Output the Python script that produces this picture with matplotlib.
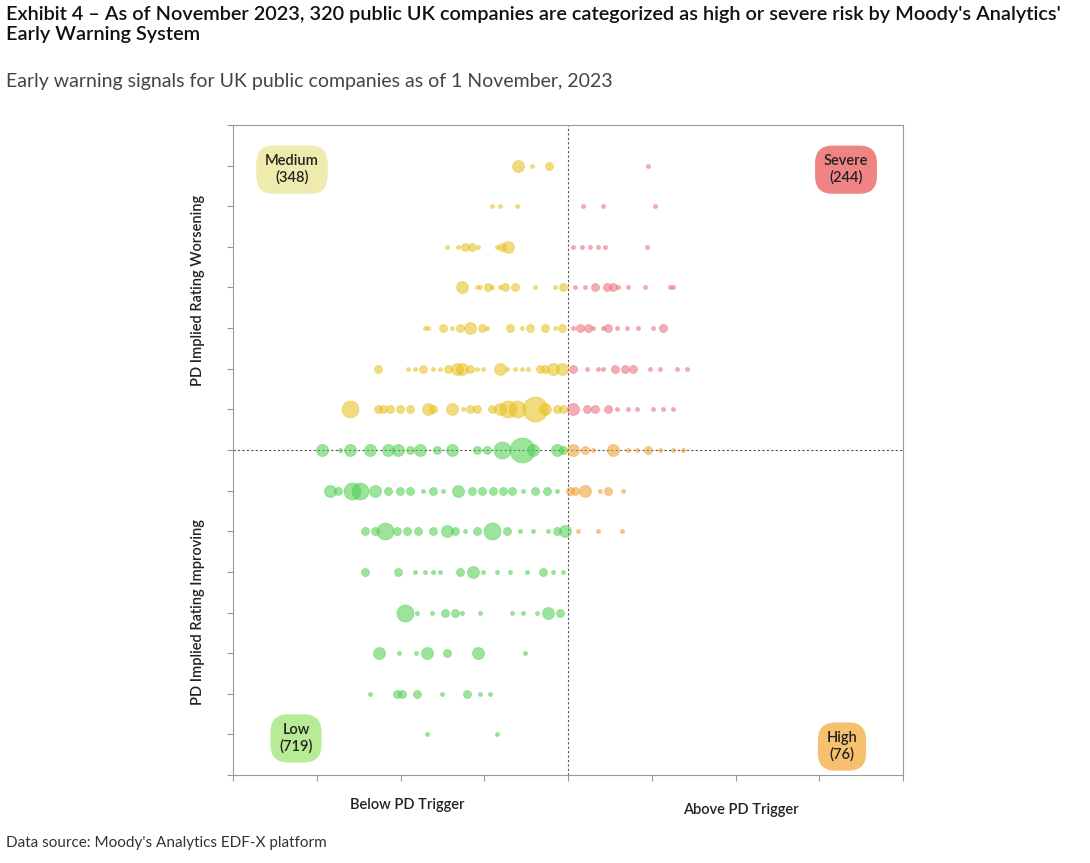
import matplotlib.pyplot as plt

plt.rcParams['font.family'] = ['Lato', 'DejaVu Sans']

# x score per row (trigger line at 568), with bubble size codes 1..5
rows = {
    7: ([518, 532, 549, 648], [3, 1, 2, 1]),
    6: ([492, 500, 517, 583, 603, 655], [1, 1, 1, 1, 1, 1]),
    5: ([447, 458, 465, 472, 478, 497, 502, 508, 573, 582, 590, 598, 605, 647],
        [1, 1, 2, 2, 1, 1, 2, 3, 1, 1, 1, 1, 1, 1]),
    4: ([462, 477, 480, 488, 492, 500, 505, 515, 535, 555, 563, 575, 585, 595, 607, 613, 618, 628, 645, 670, 673],
        [3, 1, 1, 2, 1, 1, 2, 2, 1, 1, 2, 1, 1, 2, 2, 2, 1, 1, 1, 1, 1]),
    3: ([425, 428, 443, 452, 460, 470, 482, 487, 510, 522, 530, 545, 555, 562, 573, 580, 588, 593, 603, 608, 617, 627, 638, 653, 663],
        [1, 1, 2, 1, 2, 3, 2, 1, 2, 1, 2, 2, 1, 2, 1, 2, 2, 1, 1, 2, 1, 1, 1, 1, 2]),
    2: ([378, 408, 415, 423, 433, 440, 448, 457, 462, 470, 477, 483, 500, 507, 515, 522, 528, 540, 545, 553, 562,
         573, 587, 598, 603, 615, 625, 633, 650, 660, 677, 687],
        [2, 1, 1, 2, 1, 1, 2, 3, 3, 2, 1, 1, 3, 1, 1, 1, 1, 2, 2, 3, 3,
         2, 1, 1, 1, 2, 2, 2, 1, 1, 1, 1]),
    1: ([350, 378, 383, 390, 400, 410, 428, 433, 452, 463, 470, 477, 492, 500, 508, 517, 535, 545, 557, 563,
         573, 587, 595, 608, 617, 628, 637, 653, 663, 673],
        [4, 2, 2, 2, 2, 2, 3, 2, 3, 1, 2, 2, 2, 3, 4, 4, 5, 3, 2, 2,
         3, 2, 2, 2, 1, 1, 1, 1, 1, 1]),
    0: ([322, 340, 350, 370, 388, 398, 410, 420, 437, 452, 477, 487, 502, 522, 533, 557, 563,
         573, 585, 593, 613, 628, 637, 648, 660, 673, 683],
        [3, 1, 3, 3, 3, 3, 2, 3, 2, 3, 2, 2, 4, 5, 3, 3, 2,
         3, 2, 1, 3, 1, 1, 2, 1, 1, 1]),
    -1: ([330, 338, 352, 360, 375, 388, 400, 410, 423, 433, 443, 458, 472, 482, 493, 503, 512, 523, 535, 547, 557,
          570, 575, 585, 600, 608, 623],
         [3, 2, 4, 4, 3, 2, 2, 2, 1, 2, 1, 3, 2, 2, 2, 2, 2, 1, 2, 2, 1,
          2, 2, 3, 1, 2, 1]),
    -2: ([365, 375, 385, 397, 407, 418, 433, 447, 455, 465, 477, 492, 507, 520, 533, 548, 557, 565, 578, 598, 622],
         [2, 2, 4, 2, 2, 2, 2, 3, 2, 1, 2, 4, 2, 1, 1, 1, 2, 3, 1, 1, 1]),
    -3: ([365, 398, 415, 425, 433, 440, 460, 473, 483, 497, 510, 527, 543, 553, 563],
         [2, 2, 1, 1, 1, 1, 2, 3, 1, 1, 1, 1, 2, 1, 1]),
    -4: ([405, 417, 432, 445, 455, 462, 480, 512, 523, 537, 548, 560],
         [4, 1, 1, 2, 2, 1, 1, 1, 1, 1, 3, 2]),
    -5: ([379, 399, 416, 427, 447, 478, 525], [3, 1, 1, 3, 2, 3, 1]),
    -6: ([370, 397, 402, 417, 442, 467, 480, 490], [1, 2, 2, 2, 1, 2, 1, 1]),
    -7: ([427, 497], [1, 1]),
}
size_px = {1: 4, 2: 8, 3: 12, 4: 17, 5: 25}

quadrants = [("Medium\n(348)", 292, 6.9, "#efeaae"), ("Severe\n(244)", 846, 6.9, "#f08383"),
             ("Low\n(719)", 296, -7.1, "#b9eb97"), ("High\n(76)", 842, -7.3, "#f7c06e")]

fig = plt.figure(figsize=(10.9, 8.63), dpi=100)
ax = fig.add_axes([233/1090, 1-775/863, 670/1090, 650/863])
trigger = 568
ax.set_xlim(233, 903)
ax.set_ylim(-8, 8)

for lvl, (xs, cs) in rows.items():
    for x, c in zip(xs, cs):
        if lvl > 0:
            col = "#e6bf16" if x < trigger else "#ea6a78"
        else:
            col = "#4ccc4c" if x < trigger else "#ef9a2a"
        d = size_px[c] * 0.72
        ax.scatter(x, lvl, s=d**2, color=col, alpha=0.55, edgecolors=col, linewidths=0.5, zorder=3)

ax.axvline(trigger, color="#555555", ls=(0, (2, 2)), lw=0.8, zorder=2)
ax.axhline(0, color="#555555", ls=(0, (2, 2)), lw=0.8, zorder=2)

for s in ax.spines.values():
    s.set_color("#9a9a9a")
    s.set_linewidth(0.8)
ax.set_yticks(range(-8, 9))
ax.set_xticks([233 + 83.75*i for i in range(9)])
ax.tick_params(length=4, color="#9a9a9a", labelleft=False, labelbottom=False)

for txt, x, y, col in quadrants:
    ax.text(x, y, txt, ha="center", va="center", fontsize=10.5, color="#222222", zorder=5,
            fontweight="semibold",
            bbox=dict(boxstyle="round,pad=0.6,rounding_size=1.2", fc=col, ec="none"))

lab = dict(ha="center", va="center", fontsize=10.5, fontweight="semibold", color="#222222")
fig.text(198/1090, 1-290/863, "PD Implied Rating Worsening", rotation=90, **lab)
fig.text(198/1090, 1-612/863, "PD Implied Rating Improving", rotation=90, **lab)
fig.text(407/1090, 1-805/863, "Below PD Trigger", **lab)
fig.text(741/1090, 1-810/863, "Above PD Trigger", **lab)

fig.text(6/1090, 1-6/863, "Exhibit 4 \u2013 As of November 2023, 320 public UK companies are categorized as high or severe risk by Moody's Analytics'\nEarly Warning System",
         ha="left", va="top", fontsize=14.3, fontweight="semibold", color="#111111", linespacing=1.2)
fig.text(6/1090, 1-81/863, "Early warning signals for UK public companies as of 1 November, 2023",
         ha="left", va="center", fontsize=14, color="#444444")
fig.text(6/1090, 1-843/863, "Data source: Moody's Analytics EDF-X platform", ha="left", va="center",
         fontsize=11, color="#333333")

fig.savefig("out.png", dpi=100)
